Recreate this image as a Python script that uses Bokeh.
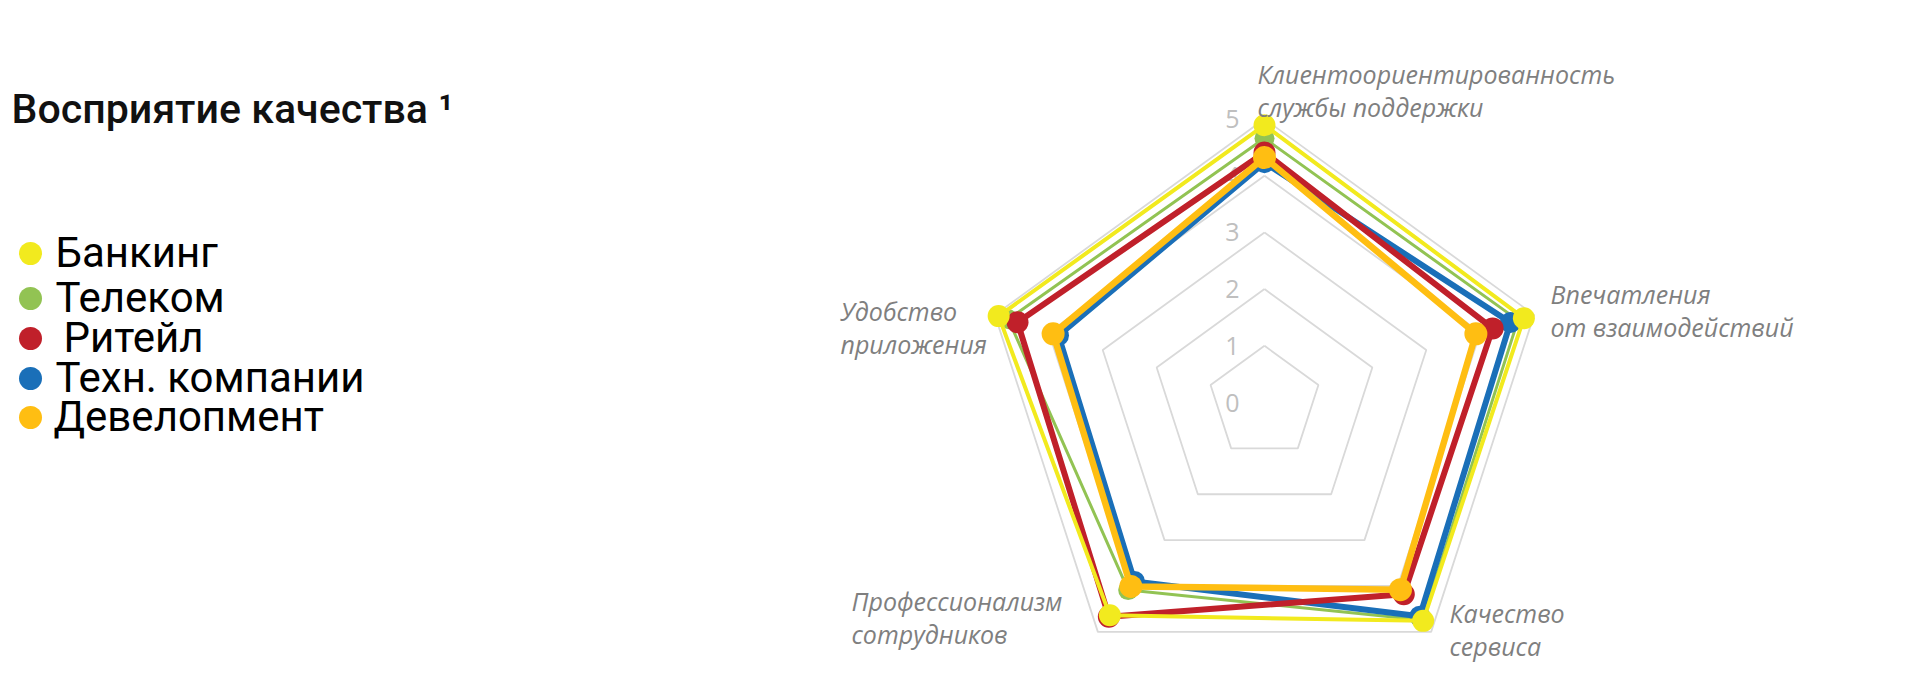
import numpy as np
from bokeh.plotting import figure
from bokeh.models import Range1d
from bokeh.core.properties import value
from bokeh.embed import file_html
from bokeh.resources import INLINE

# ---------------- data ----------------
title = "Восприятие качества ¹"
categories = [
    "Клиентоориентированность\nслужбы поддержки",
    "Впечатления\nот взаимодействий",
    "Качество\nсервиса",
    "Профессионализм\nсотрудников",
    "Удобство\nприложения",
]
series_names = ["Банкинг", "Телеком", "Ритейл", "Техн. компании", "Девелопмент"]
banking = [4.89, 4.81, 4.76, 4.64, 4.93]
telecom = [4.66, 4.70, 4.74, 4.09, 4.75]
retail = [4.41, 4.23, 4.18, 4.67, 4.58]
tech = [4.23, 4.56, 4.66, 3.90, 3.82]
development = [4.32, 3.92, 4.08, 4.01, 3.92]
rings = [0, 1, 2, 3, 4, 5]
ring_labels = ["0", "1", "2", "3", "4", "5"]

# ---------------- styles ----------------
colors = ["#F2EA1E", "#92C353", "#C0202A", "#1A6FB8", "#FFBE12"]
line_widths = [4, 3, 6, 6, 6.5]
marker_sizes = [22, 20, 22, 21, 23]
draw_order = [1, 3, 2, 4, 0]  # green, blue, red, orange, yellow on top

W, H = 1904, 676
OFF = 0             # page offset of the figure (bokeh template has no margin)
S = 56.7            # pixels per unit of the radial scale
CX, CY = 1264, 402  # centre of the radar (page pixels)


def ux(px):  # page px -> data x
    return (px - OFF - CX) / S


def uy(py):  # page px -> data y
    return (CY - (py - OFF)) / S


p = figure(width=W, height=H,
           x_range=Range1d(-CX / S, (W - CX) / S),
           y_range=Range1d(-(H - CY) / S, CY / S),
           output_backend="svg", toolbar_location=None,
           x_axis_location=None, y_axis_location=None,
           min_border=0, tools="")
p.grid.visible = False
p.outline_line_color = None
p.background_fill_color = "white"
p.border_fill_color = "white"

n = len(categories)
theta = np.pi / 2 - np.arange(n) * 2 * np.pi / n
ct, st = np.cos(theta), np.sin(theta)

# ring grid
ring_xs, ring_ys = [], []
for r in rings[1:]:
    ring_xs.append(list(r * np.append(ct, ct[0])))
    ring_ys.append(list(r * np.append(st, st[0])))
p.multi_line(ring_xs, ring_ys, line_color="#D9D9D9", line_width=1.8)

# ring value labels
p.text(x=[ux(1239)] * len(rings), y=rings, text=ring_labels,
       text_align="right", text_baseline="middle",
       text_font=value("Open Sans"), text_font_size="25px", text_color="#BFBFBF")

# series
all_series = [banking, telecom, retail, tech, development]
for i in draw_order:
    v = np.array(all_series[i])
    xs = v * ct
    ys = v * st
    p.line(list(np.append(xs, xs[0])), list(np.append(ys, ys[0])),
           line_color=colors[i], line_width=line_widths[i], line_join="round")
    p.scatter(list(xs), list(ys), size=marker_sizes[i], marker="circle",
              fill_color=colors[i], line_color=colors[i], line_width=0)

# category labels (left aligned, line centres in page px)
label_anchor_x = [1257, 1550, 1449, 851, 840]
label_anchor_y = [73, 293, 612, 600, 310]
pitch = 33.5
lx, ly, lt = [], [], []
for k, cat in enumerate(categories):
    for j, line in enumerate(cat.split("\n")):
        lx.append(ux(label_anchor_x[k]))
        ly.append(uy(label_anchor_y[k] + j * pitch))
        lt.append(line)
p.text(x=lx, y=ly, text=lt, text_align="left", text_baseline="middle",
       text_font=value("Open Sans"), text_font_style="italic",
       text_font_size="25px", text_color="#7F7F7F")

# title
p.text(x=[ux(11)], y=[uy(108)], text=[title], text_align="left",
       text_baseline="middle", text_font=value("Roboto Medium"),
       text_font_size="41px", text_color="#111111")

# legend (manual)
legend_y = [253, 298, 338, 378, 417]
legend_tx = [55, 55, 63, 55, 53]
p.scatter([ux(30)] * len(series_names), [uy(y) for y in legend_y], size=23,
          marker="circle", fill_color=colors, line_color=colors, line_width=0)
p.text(x=[ux(x) for x in legend_tx], y=[uy(y - 1) for y in legend_y],
       text=series_names, text_align="left", text_baseline="middle",
       text_font=value("Roboto"), text_font_size="42px", text_color="#000000")

open("out.html", "w").write(file_html(p, INLINE))
